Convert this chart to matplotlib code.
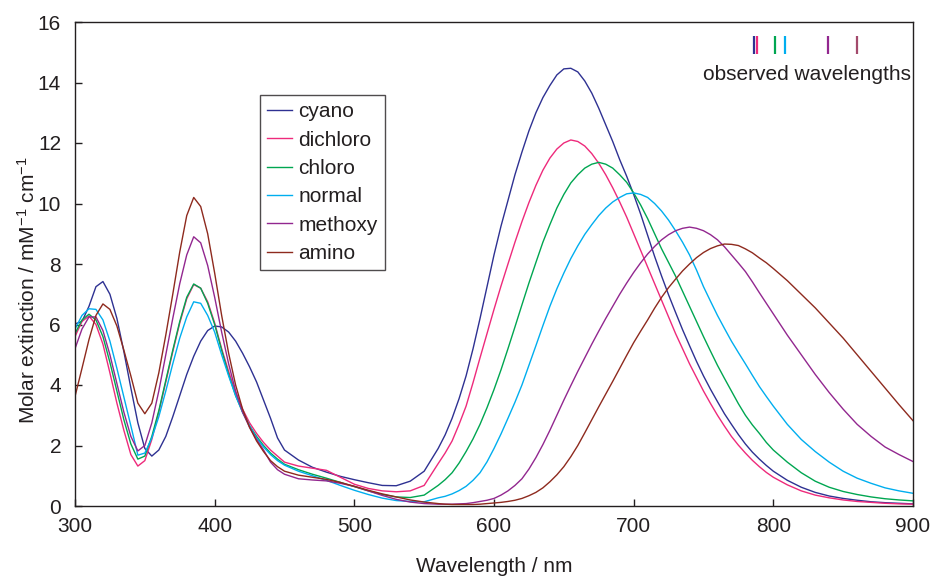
import matplotlib
matplotlib.use("Agg")
import matplotlib.pyplot as plt

plt.rcParams['font.family'] = ['Liberation Sans', 'DejaVu Sans']
plt.rcParams['mathtext.fontset'] = 'custom'
plt.rcParams['mathtext.rm'] = 'Liberation Sans'
plt.rcParams['mathtext.it'] = 'Liberation Sans:italic'

# wavelength grid (nm): 5 nm steps where the bands are sharp, 10 nm elsewhere
wavelength = (list(range(300, 450, 5)) + list(range(450, 560, 10)) +
              list(range(560, 800, 5)) + list(range(800, 901, 10)))

cyano = [6.02, 6.1, 6.6, 7.25, 7.42, 7.0, 6.2, 5.1, 3.9, 2.75, 1.9, 1.65, 1.85, 2.3, 2.95,
         3.65, 4.35, 4.95, 5.45, 5.8, 5.95, 5.92, 5.75, 5.45, 5.05, 4.6, 4.1, 3.5, 2.9, 2.25,
         1.85, 1.52, 1.28, 1.12, 0.98, 0.87, 0.77, 0.68, 0.67, 0.82, 1.15,
         1.9, 2.35, 2.9, 3.55, 4.3, 5.2, 6.2, 7.25, 8.3, 9.25, 10.1, 10.95, 11.7, 12.4, 13.0,
         13.5, 13.9, 14.25, 14.45, 14.47, 14.35, 14.05, 13.65, 13.15, 12.6, 12.05, 11.45, 10.9,
         10.3, 9.65, 8.95, 8.25, 7.6, 6.98, 6.4, 5.83, 5.3, 4.78, 4.3, 3.86, 3.45, 3.05, 2.7,
         2.36, 2.05, 1.78, 1.55, 1.34,
         1.15, 0.85, 0.62, 0.45, 0.33, 0.25, 0.19, 0.14, 0.11, 0.09, 0.07]
dichloro = [5.6, 6.1, 6.28, 6.0, 5.35, 4.4, 3.4, 2.5, 1.7, 1.32, 1.5, 2.2, 3.1, 4.1, 5.1,
            6.05, 6.85, 7.32, 7.2, 6.75, 6.05, 5.2, 4.45, 3.75, 3.2, 2.75, 2.4, 2.1, 1.85, 1.65,
            1.45, 1.32, 1.25, 1.18, 0.95, 0.72, 0.58, 0.5, 0.47, 0.5, 0.68,
            1.4, 1.75, 2.15, 2.7, 3.3, 4.08, 4.9, 5.7, 6.5, 7.27, 8.0, 8.72, 9.4, 10.03, 10.6,
            11.1, 11.5, 11.8, 12.0, 12.1, 12.05, 11.9, 11.65, 11.33, 10.95, 10.52, 10.05, 9.55,
            9.0, 8.45, 7.9, 7.35, 6.8, 6.25, 5.7, 5.2, 4.7, 4.25, 3.8, 3.39, 3.0, 2.64, 2.3,
            2.01, 1.75, 1.51, 1.3, 1.11,
            0.95, 0.7, 0.5, 0.36, 0.27, 0.2, 0.15, 0.12, 0.09, 0.07, 0.06]
chloro = [5.7, 6.15, 6.34, 6.15, 5.6, 4.75, 3.8, 2.85, 2.05, 1.55, 1.65, 2.3, 3.15, 4.15, 5.15,
          6.1, 6.9, 7.34, 7.2, 6.7, 6.0, 5.15, 4.35, 3.65, 3.1, 2.65, 2.3, 2.0, 1.75, 1.55,
          1.38, 1.2, 1.05, 0.92, 0.78, 0.64, 0.5, 0.38, 0.3, 0.28, 0.36,
          0.68, 0.87, 1.1, 1.42, 1.8, 2.22, 2.7, 3.25, 3.85, 4.5, 5.2, 5.92, 6.65, 7.37, 8.05,
          8.72, 9.3, 9.85, 10.3, 10.68, 10.95, 11.17, 11.3, 11.36, 11.3, 11.17, 10.95, 10.7,
          10.35, 9.95, 9.5, 9.0, 8.5, 8.05, 7.6, 7.1, 6.6, 6.1, 5.6, 5.12, 4.65, 4.22, 3.8,
          3.38, 3.0, 2.68, 2.4, 2.1,
          1.85, 1.45, 1.1, 0.82, 0.62, 0.48, 0.38, 0.3, 0.24, 0.2, 0.17]
normal = [5.85, 6.3, 6.52, 6.5, 6.15, 5.45, 4.55, 3.6, 2.65, 1.68, 1.75, 2.25, 2.95, 3.8, 4.7,
          5.55, 6.25, 6.75, 6.7, 6.3, 5.75, 5.0, 4.3, 3.65, 3.1, 2.65, 2.25, 1.95, 1.7, 1.5,
          1.35, 1.15, 1.0, 0.85, 0.68, 0.52, 0.38, 0.26, 0.18, 0.15, 0.14,
          0.27, 0.32, 0.4, 0.51, 0.65, 0.85, 1.1, 1.46, 1.9, 2.38, 2.9, 3.43, 4.0, 4.65, 5.3,
          5.96, 6.6, 7.18, 7.7, 8.18, 8.6, 8.98, 9.3, 9.6, 9.85, 10.05, 10.2, 10.32, 10.35,
          10.3, 10.2, 10.0, 9.75, 9.45, 9.1, 8.72, 8.3, 7.8, 7.25, 6.77, 6.3, 5.87, 5.45, 5.07,
          4.7, 4.32, 3.95, 3.62,
          3.3, 2.7, 2.2, 1.8, 1.45, 1.15, 0.92, 0.75, 0.6, 0.5, 0.42]
methoxy = [5.2, 5.85, 6.25, 6.25, 5.8, 5.0, 4.05, 3.1, 2.3, 1.82, 2.0, 2.75, 3.8, 5.0, 6.2,
           7.35, 8.3, 8.9, 8.7, 7.95, 6.9, 5.75, 4.7, 3.8, 3.1, 2.6, 2.2, 1.85, 1.45, 1.2,
           1.05, 0.9, 0.86, 0.83, 0.75, 0.65, 0.5, 0.35, 0.22, 0.13, 0.08,
           0.06, 0.06, 0.06, 0.07, 0.08, 0.11, 0.15, 0.19, 0.25, 0.36, 0.5, 0.68, 0.9, 1.22, 1.6,
           2.03, 2.5, 3.0, 3.5, 3.98, 4.45, 4.9, 5.35, 5.78, 6.2, 6.6, 7.0, 7.37, 7.72, 8.04,
           8.33, 8.58, 8.8, 8.97, 9.1, 9.18, 9.22, 9.18, 9.1, 8.97, 8.8, 8.57, 8.3, 8.03, 7.75,
           7.41, 7.05, 6.7,
           6.35, 5.65, 5.0, 4.35, 3.75, 3.2, 2.7, 2.3, 1.95, 1.7, 1.47]
amino = [3.62, 4.55, 5.5, 6.3, 6.68, 6.5, 5.95, 5.15, 4.3, 3.4, 3.05, 3.4, 4.4, 5.65, 7.0,
         8.4, 9.6, 10.2, 9.9, 9.0, 7.7, 6.3, 5.05, 4.0, 3.2, 2.6, 2.15, 1.8, 1.5, 1.3,
         1.15, 1.02, 0.95, 0.88, 0.78, 0.65, 0.52, 0.4, 0.3, 0.2, 0.13,
         0.08, 0.06, 0.05, 0.05, 0.05, 0.05, 0.06, 0.08, 0.1, 0.12, 0.15, 0.19, 0.25, 0.34, 0.45,
         0.6, 0.8, 1.03, 1.3, 1.63, 2.0, 2.42, 2.85, 3.28, 3.7, 4.12, 4.55, 4.98, 5.4, 5.78,
         6.15, 6.54, 6.9, 7.22, 7.5, 7.77, 8.0, 8.21, 8.38, 8.51, 8.6, 8.66, 8.65, 8.61, 8.5,
         8.37, 8.2, 8.04,
         7.85, 7.45, 7.0, 6.55, 6.05, 5.55, 5.0, 4.45, 3.9, 3.35, 2.82]

series_names = ['cyano', 'dichloro', 'chloro', 'normal', 'methoxy', 'amino']
series_values = [cyano, dichloro, chloro, normal, methoxy, amino]
colors = ['#2E3192', '#EE2A7B', '#00A651', '#00AEEF', '#92278F', '#8E2A1E']

observed_wavelengths = [786, 788, 801, 808, 839, 860]
observed_colors = ['#2E3192', '#EE2A7B', '#00A651', '#00AEEF', '#92278F', '#A34A6C']

x_ticks = [300, 400, 500, 600, 700, 800, 900]
y_ticks = [0, 2, 4, 6, 8, 10, 12, 14, 16]

text_color = '#231F20'

fig = plt.figure(figsize=(9.31, 5.77), dpi=100)
ax = fig.add_axes([75 / 931, 1 - 506 / 577, 838 / 931, 484 / 577])

for name, vals, c in zip(series_names, series_values, colors):
    ax.plot(wavelength, vals, color=c, lw=1.0, label=name)

for w, c in zip(observed_wavelengths, observed_colors):
    ax.plot([w, w], [14.95, 15.55], color=c, lw=1.6, solid_capstyle='butt')
ax.text(824, 14.25, 'observed wavelengths', fontsize=15, color=text_color,
        ha='center', va='center')

ax.set_xlim(300, 900)
ax.set_ylim(0, 16)
ax.set_xticks(x_ticks)
ax.set_yticks(y_ticks)
ax.tick_params(direction='in', length=5, width=1.0, labelsize=15, colors=text_color)
ax.tick_params(axis='y', pad=10)
ax.tick_params(axis='x', pad=8)
for s in ax.spines.values():
    s.set_color(text_color)
    s.set_linewidth(1.0)

ax.text(0.5, (506 - 567) / 484, 'Wavelength / nm', transform=ax.transAxes,
        fontsize=15, color=text_color, ha='center', va='center')
ax.text((28 - 75) / 838, (506 - 290) / 484, 'Molar extinction / mM$^{-1}$ cm$^{-1}$',
        transform=ax.transAxes, fontsize=15, color=text_color, ha='center', va='center',
        rotation=90)

leg = ax.legend(loc='upper left', bbox_to_anchor=((260 - 75) / 838, (506 - 95) / 484),
                borderaxespad=0, fontsize=15, frameon=True, fancybox=False,
                handlelength=1.2, handletextpad=0.3, labelspacing=0.45, borderpad=0.35)
leg.get_frame().set_edgecolor(text_color)
leg.get_frame().set_linewidth(1.0)
for t in leg.get_texts():
    t.set_color(text_color)

fig.savefig('out.png', dpi=100)
